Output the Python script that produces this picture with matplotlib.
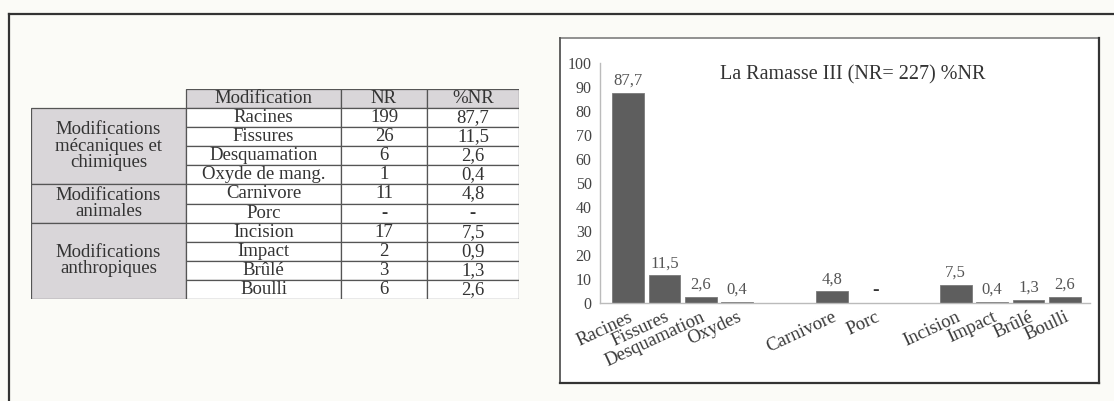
import matplotlib
matplotlib.use("Agg")
import matplotlib.pyplot as plt
from matplotlib.patches import Rectangle
from matplotlib.lines import Line2D

plt.rcParams['font.family'] = ['Liberation Serif', 'DejaVu Serif']

# ---- data ----
table_header = ['Modification', 'NR', '%NR']
groups = ['Modifications\nmécaniques et\nchimiques', 'Modifications\nanimales',
          'Modifications\nanthropiques']
group_sizes = [4, 2, 4]
modifications = ['Racines', 'Fissures', 'Desquamation', 'Oxyde de mang.', 'Carnivore',
                 'Porc', 'Incision', 'Impact', 'Brûlé', 'Boulli']
nr = ['199', '26', '6', '1', '11', '-', '17', '2', '3', '6']
pct_nr = ['87,7', '11,5', '2,6', '0,4', '4,8', '-', '7,5', '0,9', '1,3', '2,6']

chart_title = 'La Ramasse III (NR= 227) %NR'
categories = ['Racines', 'Fissures', 'Desquamation', 'Oxydes', 'Carnivore', 'Porc',
              'Incision', 'Impact', 'Brûlé', 'Boulli']
values = [87.7, 11.5, 2.6, 0.4, 4.8, 0, 7.5, 0.4, 1.3, 2.6]
value_labels = ['87,7', '11,5', '2,6', '0,4', '4,8', '-', '7,5', '0,4', '1,3', '2,6']

# ---- layout ----
W, H = 1114, 401
slots = [0, 1, 2, 3, 5.6, 6.8, 9, 10, 11, 12]
col_w = [155, 155, 86, 92]
bg = '#fbfbf7'
grey_fill = '#d9d6d9'
edge = '#555555'
txt = '#333333'

fig = plt.figure(figsize=(W / 100, H / 100), dpi=100, facecolor=bg)

def fx(px):
    return px / W

def fy(py):
    return 1 - py / H

# outer frame (top and left visible)
fig.add_artist(Line2D([fx(9), 1], [fy(14), fy(14)], color='#333333', lw=1.6))
fig.add_artist(Line2D([fx(9), fx(9)], [fy(14), 0], color='#333333', lw=1.6))

# chart box (behind the axes)
fig.add_artist(Rectangle((fx(560), fy(383)), fx(1099) - fx(560), fy(38) - fy(383),
                         transform=fig.transFigure, facecolor='white', edgecolor='none',
                         zorder=-2))
box_lines = [([560, 1099], [38, 38], '#888888', 1.3),
             ([560, 560], [38, 383], '#555555', 1.3),
             ([1099, 1099], [38, 383], '#333333', 1.6),
             ([560, 1099], [383, 383], '#333333', 1.6)]
for xs, ys, c, lw in box_lines:
    fig.add_artist(Line2D([fx(v) for v in xs], [fy(v) for v in ys], color=c, lw=lw,
                          zorder=-1))

# ---- table ----
tab = fig.add_axes([fx(31), fy(299), fx(519) - fx(31), fy(89) - fy(299)])
tab.set_xlim(0, sum(col_w))
tab.set_ylim(11, 0)
tab.axis('off')
xe = [0]
for w in col_w:
    xe.append(xe[-1] + w)

for j, h in enumerate(table_header):
    c = j + 1
    tab.add_patch(Rectangle((xe[c], 0), col_w[c], 1, facecolor=grey_fill,
                            edgecolor=edge, lw=0.9))
    tab.text((xe[c] + xe[c + 1]) / 2, 0.5, h, ha='center', va='center',
             fontsize=13.5, color=txt)

r0 = 1
for g, n in zip(groups, group_sizes):
    tab.add_patch(Rectangle((xe[0], r0), col_w[0], n, facecolor=grey_fill,
                            edgecolor=edge, lw=0.9))
    tab.text((xe[0] + xe[1]) / 2, r0 + n / 2, g, ha='center', va='center',
             fontsize=13.5, color=txt, linespacing=0.95)
    r0 += n

for i, row in enumerate(zip(modifications, nr, pct_nr)):
    for j, val in enumerate(row):
        c = j + 1
        tab.add_patch(Rectangle((xe[c], i + 1), col_w[c], 1, facecolor='white',
                                edgecolor=edge, lw=0.9))
        tab.text((xe[c] + xe[c + 1]) / 2, i + 1.5, val, ha='center', va='center',
                 fontsize=13.5, color=txt, fontweight='bold' if val == '-' else 'normal')

# ---- bar chart ----
ax = fig.add_axes([fx(600), fy(303), fx(1090) - fx(600), fy(63) - fy(303)])
ax.patch.set_alpha(0)
ax.bar(slots, values, width=0.87, color='#5e5e5e', edgecolor='#7a7a7a', lw=0.6)
for x, v, lab in zip(slots, values, value_labels):
    dash = lab == '-'
    ax.annotate(lab, (x, v), xytext=(0, 3), textcoords='offset points',
                ha='center', va='bottom', fontsize=14 if dash else 12,
                fontweight='bold' if dash else 'normal',
                color='#333333' if dash else '#555555')
ax.set_xlim(-0.77, 12.69)
ax.set_ylim(0, 100)
ax.set_yticks(range(0, 101, 10))
ax.set_xticks(slots)
ax.set_xticklabels(categories, rotation=25, ha='right', rotation_mode='anchor')
ax.tick_params(axis='x', length=0, pad=4, labelsize=13.5, labelcolor='#3a3a3a')
ax.tick_params(axis='y', length=0, pad=6, labelsize=11.5, labelcolor='#444444')
for s in ['top', 'right']:
    ax.spines[s].set_visible(False)
for s in ['left', 'bottom']:
    ax.spines[s].set_color('#bbbbbb')
    ax.spines[s].set_linewidth(1.0)
ax.text(0.516, 0.95, chart_title, transform=ax.transAxes, ha='center', va='center',
        fontsize=14.5, color='#333333')

fig.savefig('out.png', dpi=100, facecolor=bg)
